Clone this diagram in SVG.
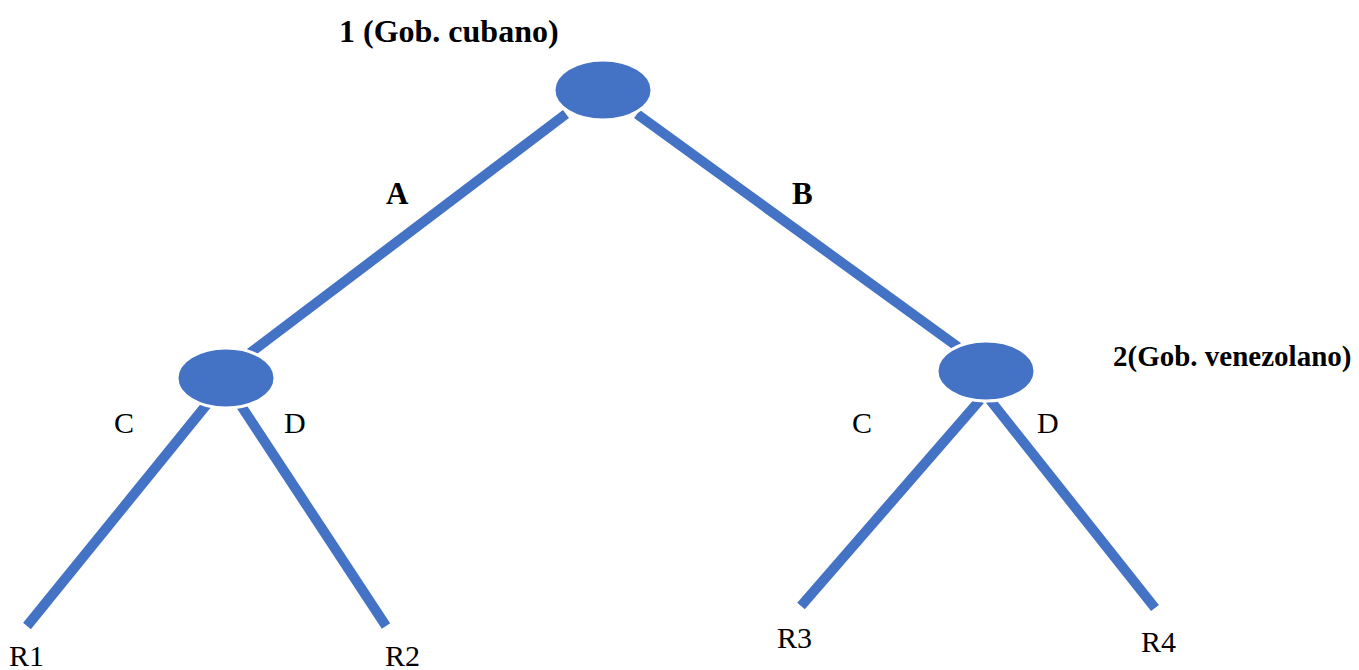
<svg xmlns="http://www.w3.org/2000/svg" width="1359" height="670" viewBox="0 0 1359 670">
<style>
.edge{stroke:#4472C4;stroke-width:10;fill:none}
.node{fill:#4472C4;stroke:#fff;stroke-width:3}
.t{font-family:'Liberation Serif','Times New Roman',serif;font-size:30px;fill:#000}
.b{font-weight:bold;font-size:31px}
.h{font-weight:bold;font-size:32px}
.h2{font-weight:bold;font-size:29px}
</style>
<rect width="1359" height="670" fill="#fff"/>
<g id="connectors">
<line class="edge" x1="566" y1="114" x2="250" y2="353"/>
<line class="edge" x1="637" y1="114" x2="958" y2="347"/>
<line class="edge" x1="212" y1="398" x2="27" y2="626"/>
<line class="edge" x1="236" y1="398" x2="386" y2="626"/>
<line class="edge" x1="980" y1="400" x2="801" y2="606"/>
<line class="edge" x1="990" y1="400" x2="1155" y2="608"/>
</g>
<g id="n1"><ellipse class="node" cx="603" cy="90" rx="49" ry="30"/></g>
<g id="n2"><ellipse class="node" cx="226" cy="378" rx="49" ry="30"/></g>
<g id="n3"><ellipse class="node" cx="986" cy="371" rx="49" ry="30"/></g>
<g id="labels">
<text class="t h" x="339" y="42">1 (Gob. cubano)</text>
<text class="t h2" x="1113" y="366">2(Gob. venezolano)</text>
<text class="t b" x="386" y="204">A</text>
<text class="t b" x="792" y="204">B</text>
<text class="t" x="114" y="433">C</text>
<text class="t" x="284" y="433">D</text>
<text class="t" x="852" y="433">C</text>
<text class="t" x="1037" y="433">D</text>
<text class="t" x="9" y="666">R1</text>
<text class="t" x="385" y="666">R2</text>
<text class="t" x="777" y="648">R3</text>
<text class="t" x="1141" y="652">R4</text>
</g>
</svg>
